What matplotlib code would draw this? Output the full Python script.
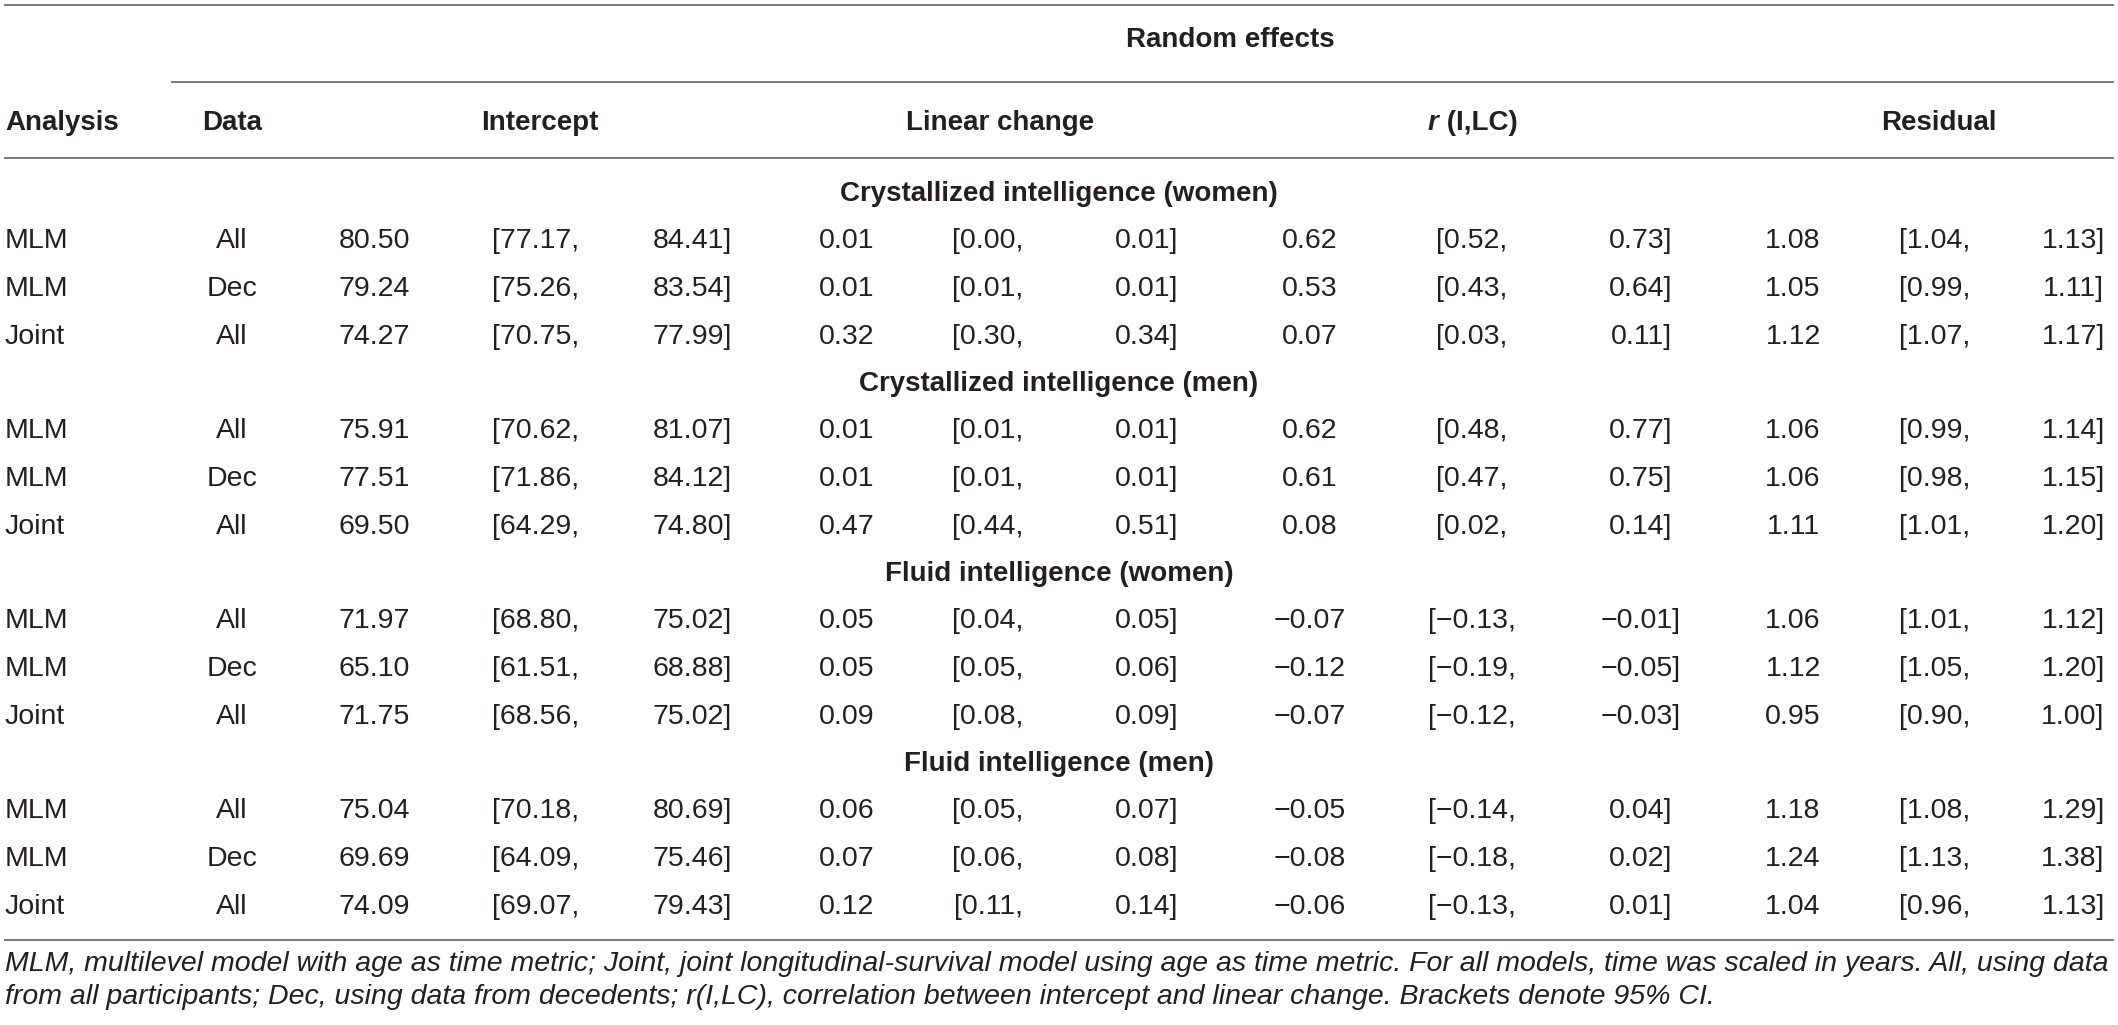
import matplotlib
matplotlib.use("Agg")
import matplotlib.pyplot as plt

# table content
sections = ["Crystallized intelligence (women)", "Crystallized intelligence (men)",
            "Fluid intelligence (women)", "Fluid intelligence (men)"]
analysis = ["MLM", "MLM", "Joint"]
data_kind = ["All", "Dec", "All"]

intercept = [80.50, 79.24, 74.27, 75.91, 77.51, 69.50, 71.97, 65.10, 71.75, 75.04, 69.69, 74.09]
intercept_lo = [77.17, 75.26, 70.75, 70.62, 71.86, 64.29, 68.80, 61.51, 68.56, 70.18, 64.09, 69.07]
intercept_hi = [84.41, 83.54, 77.99, 81.07, 84.12, 74.80, 75.02, 68.88, 75.02, 80.69, 75.46, 79.43]

linear = [0.01, 0.01, 0.32, 0.01, 0.01, 0.47, 0.05, 0.05, 0.09, 0.06, 0.07, 0.12]
linear_lo = [0.00, 0.01, 0.30, 0.01, 0.01, 0.44, 0.04, 0.05, 0.08, 0.05, 0.06, 0.11]
linear_hi = [0.01, 0.01, 0.34, 0.01, 0.01, 0.51, 0.05, 0.06, 0.09, 0.07, 0.08, 0.14]

r_ilc = [0.62, 0.53, 0.07, 0.62, 0.61, 0.08, -0.07, -0.12, -0.07, -0.05, -0.08, -0.06]
r_ilc_lo = [0.52, 0.43, 0.03, 0.48, 0.47, 0.02, -0.13, -0.19, -0.12, -0.14, -0.18, -0.13]
r_ilc_hi = [0.73, 0.64, 0.11, 0.77, 0.75, 0.14, -0.01, -0.05, -0.03, 0.04, 0.02, 0.01]

residual = [1.08, 1.05, 1.12, 1.06, 1.06, 1.11, 1.06, 1.12, 0.95, 1.18, 1.24, 1.04]
residual_lo = [1.04, 0.99, 1.07, 0.99, 0.98, 1.01, 1.01, 1.05, 0.90, 1.08, 1.13, 0.96]
residual_hi = [1.13, 1.11, 1.17, 1.14, 1.15, 1.20, 1.12, 1.20, 1.00, 1.29, 1.38, 1.13]

group_names = ["Intercept", "Linear change", None, "Residual"]

footnote = ["MLM, multilevel model with age as time metric; Joint, joint longitudinal-survival model using age as time metric. For all models, time was scaled in years. All, using data",
            "from all participants; Dec, using data from decedents; r(I,LC), correlation between intercept and linear change. Brackets denote 95% CI."]

W, H = 2118, 1025
fig = plt.figure(figsize=(W / 100, H / 100), dpi=100)
ax = fig.add_axes([0, 0, 1, 1])
ax.set_xlim(0, W)
ax.set_ylim(H, 0)
ax.axis("off")

txt = "#231f20"
rule = "#7a7a7a"
body = dict(family="Liberation Sans", fontsize=20.5, color=txt, va="center")
bold = dict(family="Liberation Sans", fontsize=20, color=txt, va="center", weight="bold")

col_x = [374, 536, 692, 847, 988, 1147, 1310, 1472, 1641, 1793, 1935, 2073]
group_x = [540, 1000, 1476, 1939]

def fmt(v):
    return f"{v:.2f}".replace("-", "\u2212")

# rules
ax.plot([5, W - 5], [5, 5], color=rule, lw=1.4)
ax.plot([172, W - 5], [82, 82], color=rule, lw=1.4)
ax.plot([5, W - 5], [158, 158], color=rule, lw=1.4)
ax.plot([5, W - 5], [940, 940], color=rule, lw=1.4)

# headers
ax.text(1230, 40, "Random effects", ha="center", **bold)
ax.text(5, 123, "Analysis", ha="left", **bold)
ax.text(232, 123, "Data", ha="center", **bold)
for name, gx in zip(group_names, group_x):
    if name:
        ax.text(gx, 123, name, ha="center", **bold)
t_r = ax.text(1428, 123, "r", ha="left", style="italic", **bold)
ax.annotate(" (I,LC)", xy=(1, 0.5), xycoords=t_r, ha="left", **bold)

# body
row_h = 47.5
y0 = 194
cols = [intercept, intercept_lo, intercept_hi, linear, linear_lo, linear_hi,
        r_ilc, r_ilc_lo, r_ilc_hi, residual, residual_lo, residual_hi]
for s, sec in enumerate(sections):
    ys = y0 + s * 4 * row_h
    ax.text(1059, ys, sec, ha="center", **bold)
    for j in range(3):
        i = s * 3 + j
        y = ys + (j + 1) * row_h
        ax.text(5, y, analysis[j], ha="left", **body)
        ax.text(232, y, data_kind[j], ha="center", **body)
        for c, (vals, cx) in enumerate(zip(cols, col_x)):
            s_val = fmt(vals[i])
            if c % 3 == 1:
                s_val = "[" + s_val + ","
            elif c % 3 == 2:
                s_val = s_val + "]"
            ax.text(cx, y, s_val, ha="center", **body)

ax.text(5, 964, footnote[0], ha="left", style="italic", **body)
ax.text(5, 997, footnote[1], ha="left", style="italic", **body)

fig.savefig("out.png", dpi=100)
